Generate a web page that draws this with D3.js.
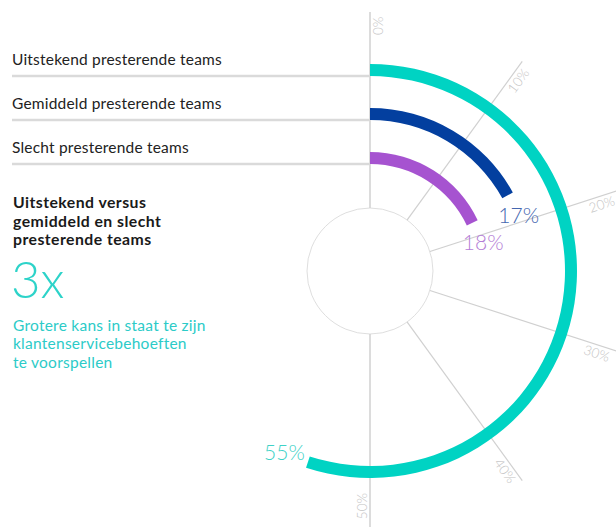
<!DOCTYPE html>
<html>
<head>
<meta charset="utf-8">
<script src="https://cdn.jsdelivr.net/npm/d3@7/dist/d3.min.js"></script>
<style>
  html, body { margin: 0; padding: 0; background: #fff; }
  svg { display: block; font-family: "Lato", "Open Sans", sans-serif; }
</style>
</head>
<body>
<svg id="chart" width="616" height="527"></svg>
<script>
// ---- data ----
const categories = ["Uitstekend presterende teams", "Gemiddeld presterende teams", "Slecht presterende teams"];
const values = [55, 17, 18];
const valueLabels = ["55%", "17%", "18%"];
const tickValues = [0, 10, 20, 30, 40, 50];
const tickLabels = ["0%", "10%", "20%", "30%", "40%", "50%"];
const titleLines = ["Uitstekend versus", "gemiddeld en slecht", "presterende teams"];
const bigStat = "3x";
const statLines = ["Grotere kans in staat te zijn", "klantenservicebehoeften", "te voorspellen"];

// ---- styles ----
const ringColors = ["#00d3c3", "#033f9f", "#a653d0"];
const labelColors = ["#3fd2c7", "#4567b0", "#b47dd6"];
const cx = 370, cy = 271;
const innerCircleR = 63, gridOuterR = 259;

const svg = d3.select("#chart");

const angle = d3.scaleLinear().domain([0, 100]).range([0, 2 * Math.PI]);
const radius = d3.scaleBand()
  .domain(categories.slice().reverse())
  .range([107, 207])
  .paddingInner(8 / 11)
  .paddingOuter(0);

const g = svg.append("g").attr("transform", `translate(${cx},${cy})`);

// radial grid lines
tickValues.forEach((t, i) => {
  const a = angle(t);
  const sx = Math.sin(a), sy = -Math.cos(a);
  const vertical = (t % 50 === 0);
  g.append("line")
    .attr("x1", innerCircleR * sx).attr("y1", innerCircleR * sy)
    .attr("x2", gridOuterR * sx).attr("y2", gridOuterR * sy)
    .attr("stroke", vertical ? "#dcdcdc" : "#d0d0d0")
    .attr("stroke-width", vertical ? 2 : 1.2);
  const deg = a * 180 / Math.PI;
  const flip = deg >= 180;
  g.append("text")
    .attr("transform", flip ? `rotate(${deg + 90}) translate(-222,-3)` : `rotate(${deg - 90}) translate(${t === 0 ? 236 : 228},13)`)
    .attr("text-anchor", flip ? "end" : "start")
    .attr("fill", "#c4c4c4")
    .attr("font-size", 13.5)
    .attr("font-weight", 300)
    .text(tickLabels[i]);
});

// inner circle
g.append("circle").attr("r", innerCircleR)
  .attr("fill", "#fff").attr("stroke", "#d6d6d6").attr("stroke-width", 0.8);

// legend lines + labels
categories.forEach((c, i) => {
  const ly = cy - radius(c);
  svg.append("line")
    .attr("x1", 12).attr("x2", cx).attr("y1", ly).attr("y2", ly)
    .attr("stroke", "#dadada").attr("stroke-width", 2.5);
  svg.append("text")
    .attr("x", 12).attr("y", ly - 11.5)
    .attr("font-size", 15.5).attr("letter-spacing", 0.2).attr("fill", "#222")
    .text(c);
});

// arcs
const arc = d3.arc();
categories.forEach((c, i) => {
  const r0 = radius(c), r1 = r0 + radius.bandwidth();
  g.append("path")
    .attr("d", arc({ innerRadius: r0, outerRadius: r1, startAngle: 0, endAngle: angle(values[i]) }))
    .attr("fill", ringColors[i]);
  const a = angle(values[i]);
  const px = r0 * Math.sin(a), py = -r0 * Math.cos(a);
  const lbl = g.append("text")
    .attr("font-size", 21).attr("font-weight", 300)
    .attr("fill", labelColors[i])
    .text(valueLabels[i]);
  if (a < Math.PI) {
    lbl.attr("x", px - 4).attr("y", py + 24.5).attr("text-anchor", "start");
  } else {
    lbl.attr("x", px - 5).attr("y", py + 3.5).attr("text-anchor", "end");
  }
});

// left annotation
const title = svg.append("text").attr("x", 13).attr("y", 208)
  .attr("font-size", 15.8).attr("font-weight", 700).attr("letter-spacing", 0.45).attr("fill", "#1a1a1a");
titleLines.forEach((t, i) => title.append("tspan").attr("x", 13).attr("dy", i ? 18.5 : 0).text(t));

svg.append("text").attr("x", 11).attr("y", 298)
  .attr("font-size", 51).attr("font-weight", 300).attr("fill", "#2dd3c9")
  .text(bigStat);

const stat = svg.append("text").attr("x", 13).attr("y", 331)
  .attr("font-size", 15.5).attr("font-weight", 400).attr("letter-spacing", 0.25).attr("fill", "#2ccbc8");
statLines.forEach((t, i) => stat.append("tspan").attr("x", 13).attr("dy", i ? 18.3 : 0).text(t));
</script>
</body>
</html>
